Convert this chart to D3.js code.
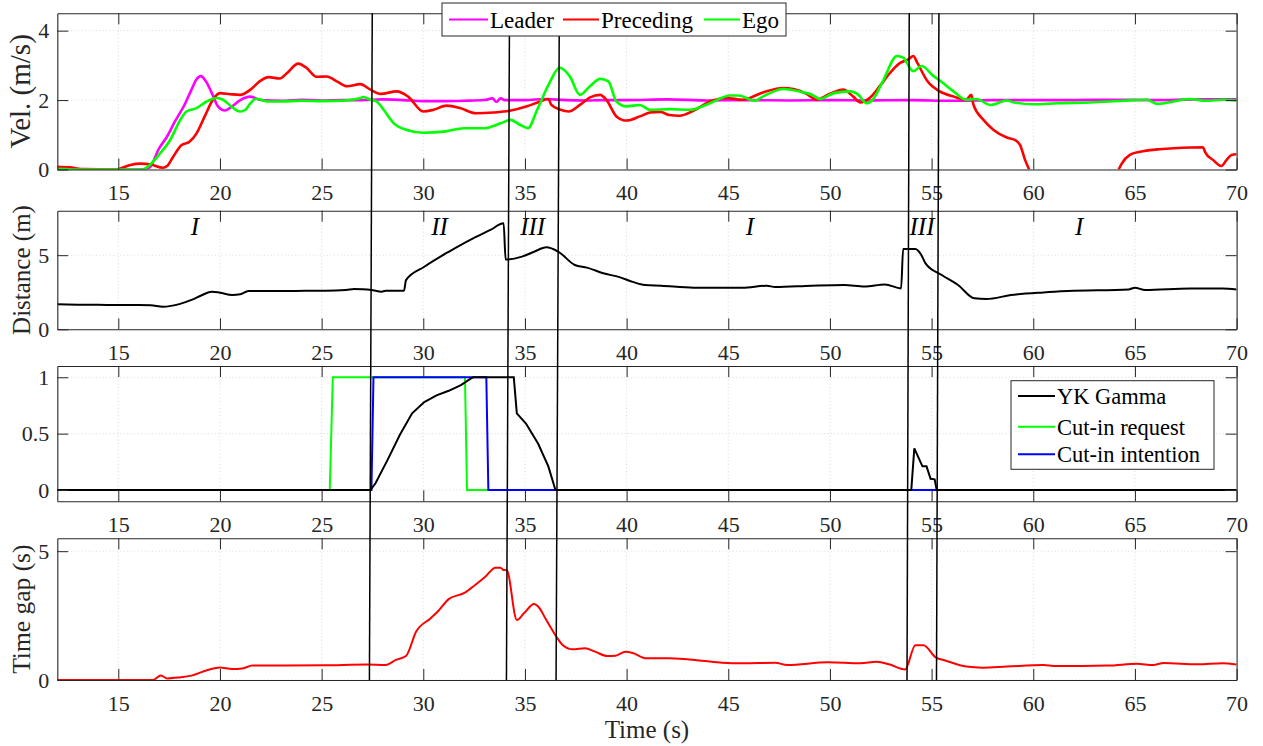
<!DOCTYPE html>
<html>
<head>
<meta charset="utf-8">
<script src="https://cdn.jsdelivr.net/npm/d3@7"></script>
<style>
  html, body { margin: 0; padding: 0; background: #fff; }
  svg { display: block; font-family: "Liberation Serif", "Times New Roman", serif; }
  .tick text { fill: #262626; }
</style>
</head>
<body>
<svg id="chart" width="1263" height="746"></svg>
<script>
// ---------------- DATA ----------------
const xTicks = [15, 20, 25, 30, 35, 40, 45, 50, 55, 60, 65, 70];
const xDomain = [12, 70];

// Velocity (m/s)
const leaderT = [12, 13, 14, 15, 16, 16.4, 16.6, 17.0, 17.4, 17.8, 18.2, 18.6, 18.85, 19.05, 19.3, 19.6, 19.9, 20.25, 20.6, 21.0, 21.5, 22.0, 23, 24, 25, 26, 27, 28, 29, 30, 31, 32, 33, 33.4, 33.6, 33.8, 34, 35, 36, 37, 38, 39, 40, 42, 44, 46, 48, 50, 52, 54, 56, 58, 60, 62, 64, 66, 68, 70];
const leaderV = [0.02, 0.0, 0.0, 0.0, 0.0, 0.02, 0.1, 0.6, 0.95, 1.4, 1.8, 2.3, 2.6, 2.69, 2.55, 2.2, 1.82, 1.7, 1.82, 2.0, 2.1, 2.0, 1.98, 2.01, 1.99, 2.0, 2.0, 2.02, 2.0, 1.97, 1.97, 1.98, 2.0, 2.05, 1.95, 2.05, 2.0, 2.0, 2.03, 2.0, 1.99, 2.0, 2.0, 2.02, 1.99, 2.0, 1.99, 2.0, 1.99, 2.0, 1.98, 2.0, 2.0, 2.0, 2.01, 2.0, 2.02, 2.02];

const precedingT = [12, 12.6, 13.3, 14.9, 15.2, 15.6, 16.07, 16.55, 17.2, 17.4, 17.7, 18.1, 18.5, 18.85, 19.25, 19.65, 20.0, 20.5, 21.0, 21.5, 21.95, 22.4, 22.95, 23.3, 23.85, 24.25, 24.75, 25.25, 25.75, 26.25, 26.9, 27.4, 27.9, 28.7, 29.25, 30.0, 30.5, 31.15, 31.8, 32.6, 33.45, 34.25, 35.1, 35.75, 36.15, 36.3, 36.75, 37.15, 37.7, 38.2, 38.7, 39.0, 39.5, 40.0, 40.65, 41.15, 41.65, 42.1, 42.6, 43.3, 44.1, 44.9, 45.7, 46.7, 47.7, 48.2, 48.85, 49.35, 50.0, 50.65, 51.15, 51.5, 51.95, 52.45, 52.95, 53.45, 53.85, 54.1, 54.3, 54.8, 55.4, 56.08, 56.7, 56.95, 57.06, 57.55, 58.05, 58.7, 59.1, 59.35, 59.6, 59.8, null, 64.2, 64.35, 64.75, 65.25, 66.1, 66.9, 68.35, 68.45, 68.85, 69.25, 69.5, 69.75, 70];
const precedingV = [0.08, 0.06, 0.01, 0.0, 0.05, 0.13, 0.17, 0.15, 0.05, 0.1, 0.37, 0.7, 0.8, 1.04, 1.53, 2.01, 2.2, 2.17, 2.15, 2.3, 2.54, 2.66, 2.62, 2.78, 3.05, 2.93, 2.67, 2.68, 2.54, 2.4, 2.46, 2.3, 2.18, 2.25, 2.1, 1.67, 1.72, 1.84, 1.77, 1.62, 1.64, 1.69, 1.82, 1.96, 2.03, 1.86, 1.72, 1.67, 1.86, 2.08, 2.15, 2.01, 1.53, 1.41, 1.53, 1.64, 1.66, 1.57, 1.55, 1.7, 1.96, 2.06, 2.01, 2.22, 2.35, 2.32, 2.18, 2.01, 2.18, 2.3, 2.1, 1.93, 2.06, 2.4, 2.78, 3.07, 3.17, 3.27, 3.07, 2.54, 2.25, 2.1, 2.01, 2.15, 1.86, 1.43, 1.14, 0.92, 0.85, 0.71, 0.27, 0.0, null, 0.0, 0.17, 0.42, 0.51, 0.58, 0.61, 0.64, 0.5, 0.27, 0.1, 0.27, 0.42, 0.44];

const egoT = [12, 13, 16.2, 16.55, 17.05, 17.55, 18.05, 18.35, 18.85, 19.35, 19.85, 20.15, 20.55, 21.0, 21.25, 21.5, 21.8, 22.3, 23, 24, 25, 26, 26.9, 27.05, 27.4, 27.7, 28.05, 28.55, 29.2, 30.0, 31.0, 32.0, 33.0, 33.8, 34.3, 34.75, 35.15, 35.6, 36.2, 36.7, 37.2, 37.7, 38.2, 38.7, 39.1, 39.5, 40.0, 40.65, 41.15, 42.1, 43.1, 44.1, 45.1, 45.5, 46.3, 46.7, 47.7, 48.5, 49.2, 49.5, 50.2, 51.0, 51.4, 51.8, 52.1, 52.6, 53.3, 53.6, 54.1, 54.5, 55.1, 55.5, 56.08, 56.7, 57.2, 57.9, 58.7, 59.0, 60.0, 61.2, 62.8, 64.4, 65.6, 66.1, 66.9, 67.7, 68.5, 69.35, 70];
const egoV = [0.02, 0.0, 0.0, 0.13, 0.46, 0.85, 1.43, 1.67, 1.77, 1.96, 2.06, 2.01, 1.82, 1.67, 1.72, 1.91, 2.04, 1.96, 1.96, 1.98, 1.97, 1.98, 2.05, 2.09, 2.01, 1.96, 1.72, 1.33, 1.14, 1.06, 1.09, 1.19, 1.19, 1.33, 1.43, 1.29, 1.19, 1.72, 2.49, 2.93, 2.69, 2.15, 2.4, 2.61, 2.54, 1.96, 1.82, 1.86, 1.72, 1.74, 1.72, 1.91, 2.13, 2.13, 1.98, 2.1, 2.32, 2.25, 2.13, 2.03, 2.2, 2.25, 2.15, 1.91, 2.01, 2.54, 3.27, 3.22, 2.83, 2.98, 2.69, 2.52, 2.25, 2.01, 2.03, 1.86, 1.99, 1.94, 1.88, 1.91, 1.93, 1.98, 2.01, 1.89, 1.96, 2.03, 1.98, 2.01, 1.99];

// Distance (m)
const distT = [12, 13, 14, 15, 16, 16.6, 17.2, 17.6, 18.0, 18.6, 19.1, 19.6, 20.0, 20.6, 21.0, 21.4, 22.2, 23.2, 24.2, 25.2, 26.2, 26.6, 27.0, 27.45, 27.95, 28.15, 29.05, 29.15, 30.05, 31.25, 32.45, 33.3, 33.95, 34.05, 34.85, 35.45, 36.05, 36.65, 37.45, 38.05, 38.85, 39.65, 40.3, 40.9, 41.7, 43.3, 45.7, 46.9, 47.3, 49.1, 50.7, 51.7, 52.7, 53.5, 53.6, 54.2, 54.5, 54.7, 55.5, 56.3, 57.1, 57.7, 58.9, 60.5, 61.7, 64.7, 65.0, 65.5, 67.7, 69.3, 70];
const distV = [1.69, 1.66, 1.65, 1.64, 1.64, 1.62, 1.52, 1.58, 1.7, 1.98, 2.3, 2.54, 2.47, 2.32, 2.36, 2.58, 2.58, 2.58, 2.6, 2.6, 2.65, 2.72, 2.7, 2.65, 2.54, 2.6, 2.6, 3.32, 4.22, 5.23, 6.14, 6.7, 7.15, 4.7, 4.9, 5.23, 5.53, 5.23, 4.34, 4.16, 3.78, 3.52, 3.2, 2.99, 2.94, 2.81, 2.81, 2.94, 2.85, 2.94, 2.99, 2.88, 3.03, 2.76, 5.41, 5.41, 5.0, 4.45, 3.66, 2.99, 2.09, 2.04, 2.31, 2.49, 2.58, 2.69, 2.81, 2.65, 2.76, 2.76, 2.69];

// YK Gamma, cut-in request, cut-in intention
const gammaT = [12, 27.4, 27.65, 28.25, 28.85, 29.45, 30.05, 30.65, 31.25, 31.85, 32.35, 32.45, 34.45, 34.6, 35.05, 35.65, 36.15, 36.5, 54.0, 54.15, 54.55, 54.75, 54.95, 55.15, 55.25, 70];
const gammaV = [0, 0, 0.06, 0.27, 0.49, 0.68, 0.78, 0.84, 0.88, 0.93, 0.99, 1, 1, 0.68, 0.59, 0.41, 0.21, 0, 0, 0.37, 0.21, 0.21, 0.1, 0.095, 0, 0];
const requestT = [12, 25.4, 25.55, 32.05, 32.15, 70];
const requestV = [0, 0, 1, 1, 0, 0];
const intentT = [12, 27.45, 27.55, 33.1, 33.2, 70];
const intentV = [0, 0, 1, 1, 0, 0];

// Time gap (s)
const gapT = [12, 16.7, 17.1, 17.4, 18.0, 18.6, 19.4, 20.0, 20.6, 21.1, 21.6, 23.2, 25.2, 27.25, 28.15, 28.65, 29.15, 29.65, 30.35, 30.75, 31.25, 32.05, 32.55, 33.05, 33.55, 33.8, 33.95, 34.1, 34.6, 34.95, 35.45, 35.65, 36.05, 36.55, 36.85, 37.35, 37.95, 38.45, 39.05, 39.45, 39.95, 40.3, 40.98, 42.1, 43.7, 44.7, 45.7, 47.3, 47.9, 49.9, 51.5, 52.3, 52.9, 53.7, 54.2, 54.6, 55.2, 55.7, 56.7, 57.5, 58.7, 60.5, 61.1, 63.7, 65.1, 65.9, 66.4, 68.1, 69.3, 70];
const gapV = [0, 0, 0.17, 0.06, 0.1, 0.17, 0.39, 0.49, 0.43, 0.45, 0.56, 0.56, 0.57, 0.6, 0.58, 0.78, 0.93, 1.88, 2.39, 2.69, 3.14, 3.39, 3.69, 4.01, 4.36, 4.36, 4.27, 4.27, 2.33, 2.59, 2.95, 2.85, 2.33, 1.68, 1.36, 1.19, 1.23, 1.1, 0.93, 0.94, 1.1, 1.05, 0.84, 0.84, 0.75, 0.67, 0.65, 0.67, 0.58, 0.69, 0.65, 0.71, 0.61, 0.41, 1.35, 1.35, 0.88, 0.75, 0.52, 0.48, 0.52, 0.58, 0.54, 0.56, 0.63, 0.58, 0.66, 0.61, 0.65, 0.6];

// Mode switch lines (time at top of figure, time at bottom)
const switchTop = [27.49, 34.24, 36.69, 53.9, 55.36];
const switchBottom = [27.35, 34.09, 36.53, 53.79, 55.24];

// Region labels in distance panel
const regionLabels = ["I", "II", "III", "I", "III", "I"];
const regionT = [18.77, 30.8, 35.38, 46.06, 54.53, 62.26];

// Legends
const velNames = ["Leader", "Preceding", "Ego"];
const velColors = ["#ff00ff", "#ff0000", "#00ff00"];
const cutNames = ["YK Gamma", "Cut-in request", "Cut-in intention"];
const cutColors = ["#000000", "#00ff00", "#0000ff"];

// ---------------- LAYOUT ----------------
const svg = d3.select("#chart");
const L = 57.3, R = 1236.6;
const panels = [
  { top: 13.3, bottom: 169.5, domain: [0, 4.5], ticks: [0, 2, 4], label: "Vel. (m/s)", lsize: 29 },
  { top: 210.7, bottom: 329.3, domain: [0, 8], ticks: [0, 5], label: "Distance (m)", lsize: 25 },
  { top: 366, bottom: 501.3, domain: [-0.1, 1.1], ticks: [0, 0.5, 1], label: "", lsize: 25 },
  { top: 538.3, bottom: 680, domain: [0, 5.5], ticks: [0, 5], label: "Time gap (s)", lsize: 25.5 }
];
const x = d3.scaleLinear().domain(xDomain).range([L, R]);
const axisColor = "#262626";

const zip = (ts, vs) => ts.map((t, i) => ({ t, v: vs[i] }));

panels.forEach((p, i) => {
  p.y = d3.scaleLinear().domain(p.domain).range([p.bottom, p.top]);
  const g = svg.append("g");
  p.g = g;
  // background
  g.append("rect").attr("x", L).attr("y", p.top).attr("width", R - L).attr("height", p.bottom - p.top).attr("fill", "#fff");
  // grid
  g.append("g").selectAll("line").data(xTicks.filter(d => d < 70)).join("line")
    .attr("x1", d => x(d)).attr("x2", d => x(d)).attr("y1", p.top).attr("y2", p.bottom)
    .attr("stroke", "#d0d0d0").attr("stroke-width", 0.8).attr("stroke-dasharray", "1,2.5");
  g.append("g").selectAll("line").data(p.ticks).join("line")
    .attr("x1", L).attr("x2", R).attr("y1", d => p.y(d)).attr("y2", d => p.y(d))
    .attr("stroke", "#d0d0d0").attr("stroke-width", 0.8).attr("stroke-dasharray", "1,2.5");
  // clip
  svg.append("clipPath").attr("id", "clip" + i).append("rect")
    .attr("x", L).attr("y", p.top).attr("width", R - L).attr("height", p.bottom - p.top);
  p.plot = g.append("g").attr("clip-path", `url(#clip${i})`);
});

function axes(p) {
  const g = p.g;
  const bottom = g.append("g").attr("transform", `translate(0,${p.bottom})`)
    .call(d3.axisBottom(x).tickValues(xTicks).tickSizeInner(-11).tickSizeOuter(0).tickPadding(15).tickFormat(d3.format("d")));
  const top = g.append("g").attr("transform", `translate(0,${p.top})`)
    .call(d3.axisTop(x).tickValues(xTicks).tickSizeInner(-11).tickSizeOuter(0).tickFormat(""));
  const left = g.append("g").attr("transform", `translate(${L},0)`)
    .call(d3.axisLeft(p.y).tickValues(p.ticks).tickSizeInner(-11).tickSizeOuter(0).tickPadding(8).tickFormat(d => d3.format("")(d)));
  const right = g.append("g").attr("transform", `translate(${R},0)`)
    .call(d3.axisRight(p.y).tickValues(p.ticks).tickSizeInner(-11).tickSizeOuter(0).tickFormat(""));
  [bottom, top, left, right].forEach(a => {
    a.select(".domain").attr("stroke", axisColor).attr("stroke-width", 1.1);
    a.selectAll(".tick line").attr("stroke", axisColor).attr("stroke-width", 1);
    a.selectAll(".tick text").style("font-size", "22px").style("font-family", '"Liberation Serif", serif').attr("fill", axisColor);
  });
  if (p.label) {
    const cy = (p.top + p.bottom) / 2;
    g.append("text").attr("transform", `translate(30,${cy}) rotate(-90)`)
      .attr("text-anchor", "middle").style("font-size", p.lsize + "px").attr("fill", axisColor).text(p.label);
  }
}

// ---------------- PANEL 1: velocity ----------------
const p1 = panels[0];
const line1 = d3.line().defined(d => d.t !== null && d.v !== null).x(d => x(d.t)).y(d => p1.y(d.v)).curve(d3.curveMonotoneX);
[[leaderT, leaderV, velColors[0]], [precedingT, precedingV, velColors[1]], [egoT, egoV, velColors[2]]].forEach(([ts, vs, c]) => {
  p1.plot.append("path").datum(zip(ts, vs)).attr("d", line1).attr("fill", "none")
    .attr("stroke", c).attr("stroke-width", 2.6).attr("stroke-linejoin", "round");
});

// ---------------- PANEL 2: distance ----------------
const p2 = panels[1];
const line2 = d3.line().x(d => x(d.t)).y(d => p2.y(d.v)).curve(d3.curveMonotoneX);
p2.plot.append("path").datum(zip(distT, distV)).attr("d", line2).attr("fill", "none")
  .attr("stroke", "#000").attr("stroke-width", 2);
p2.g.append("g").selectAll("text").data(regionLabels).join("text")
  .attr("x", (d, i) => x(regionT[i])).attr("y", 235)
  .attr("text-anchor", "middle").style("font-size", "25px").style("font-style", "italic")
  .attr("fill", "#000").text(d => d);

// ---------------- PANEL 3: gamma ----------------
const p3 = panels[2];
const line3 = d3.line().x(d => x(d.t)).y(d => p3.y(d.v));
[[requestT, requestV, cutColors[1]], [intentT, intentV, cutColors[2]], [gammaT, gammaV, cutColors[0]]].forEach(([ts, vs, c]) => {
  p3.plot.append("path").datum(zip(ts, vs)).attr("d", line3).attr("fill", "none")
    .attr("stroke", c).attr("stroke-width", 2);
});
// redraw intention zero segments over? keep order: blue visible at bottom
p3.plot.append("path").datum(zip(intentT, intentV)).attr("d", line3).attr("fill", "none")
  .attr("stroke", cutColors[2]).attr("stroke-width", 2).attr("opacity", 0);

// ---------------- PANEL 4: time gap ----------------
const p4 = panels[3];
const line4 = d3.line().x(d => x(d.t)).y(d => p4.y(d.v)).curve(d3.curveMonotoneX);
p4.plot.append("path").datum(zip(gapT, gapV)).attr("d", line4).attr("fill", "none")
  .attr("stroke", "#ff0000").attr("stroke-width", 2);

panels.forEach(axes);

// xlabel
svg.append("text").attr("x", (L + R) / 2).attr("y", 738).attr("text-anchor", "middle")
  .style("font-size", "25px").attr("fill", axisColor).text("Time (s)");

// ---------------- switch lines ----------------
svg.append("g").selectAll("line").data(switchTop).join("line")
  .attr("x1", d => x(d)).attr("y1", panels[0].top)
  .attr("x2", (d, i) => x(switchBottom[i])).attr("y2", panels[3].bottom)
  .attr("stroke", "#000").attr("stroke-width", 1.5);

// ---------------- legends ----------------
function legend(names, colors, box, items) {
  const g = svg.append("g");
  g.append("rect").attr("x", box.x).attr("y", box.y).attr("width", box.w).attr("height", box.h)
    .attr("fill", "#fff").attr("stroke", axisColor).attr("stroke-width", 1);
  names.forEach((n, i) => {
    const it = items[i];
    g.append("line").attr("x1", it.x1).attr("x2", it.x2).attr("y1", it.y).attr("y2", it.y)
      .attr("stroke", colors[i]).attr("stroke-width", 2);
    g.append("text").attr("x", it.x2 + 2).attr("y", it.y + 8).style("font-size", box.fs + "px")
      .attr("fill", "#000").text(n);
  });
}
legend(velNames, velColors, { x: 442, y: 3, w: 344, h: 33, fs: 23 }, [
  { x1: 449, x2: 488, y: 19.5 }, { x1: 563, x2: 599, y: 19.5 }, { x1: 704, x2: 740, y: 19.5 }
]);
legend(cutNames, cutColors, { x: 1011, y: 380.7, w: 203, h: 88.6, fs: 22.5 }, [
  { x1: 1018, x2: 1055, y: 396 }, { x1: 1018, x2: 1055, y: 426.7 }, { x1: 1018, x2: 1055, y: 454.3 }
]);
</script>
</body>
</html>
